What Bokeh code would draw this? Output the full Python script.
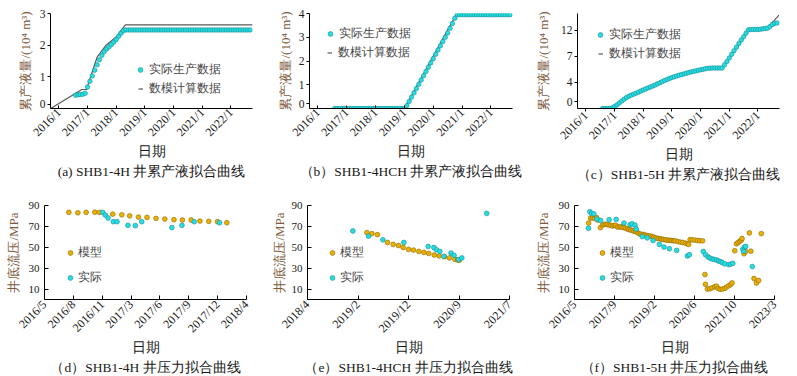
import math
import numpy as np
from bokeh.plotting import figure
from bokeh.models import FixedTicker, Legend, LegendItem, Title
from bokeh.layouts import column, row
from bokeh.embed import file_html
from bokeh.resources import INLINE

FONT = "Liberation Serif"
CYAN = "#26DDE0"
CYAN_EDGE = "#168F99"
GOLD = "#EDB000"
GOLD_EDGE = "#8C6A00"
BROWN = "#7D5A3C"
TXT = "#1A1A1A"
LEG_TXT = "#474747"

# ---------------- data (x = month index, 0 = 2016/1) ----------------
top_ticks = [0, 12, 24, 36, 48, 60, 72]
top_tick_labels = ["2016/1", "2017/1", "2018/1", "2019/1", "2020/1", "2021/1", "2022/1"]

# (a) SHB1-4H cumulative liquid, 10^4 m3 (actual = monthly from 2016/8)
a_act_start = 7
a_act = [0.42, 0.43, 0.44, 0.45, 0.48,
         0.68, 0.86, 1.03, 1.21, 1.38, 1.54, 1.68, 1.80, 1.88, 1.95, 2.02, 2.10, 2.18, 2.28, 2.38, 2.46,
         2.48, 2.48, 2.48, 2.48, 2.48, 2.48, 2.48, 2.48, 2.48, 2.48, 2.48, 2.48, 2.48, 2.48, 2.48, 2.48,
         2.48, 2.48, 2.48, 2.48, 2.48, 2.48, 2.48, 2.48, 2.48, 2.48, 2.48, 2.48, 2.48, 2.48, 2.48, 2.48,
         2.48, 2.48, 2.48, 2.48, 2.48, 2.48, 2.48, 2.48, 2.48, 2.48, 2.48, 2.48, 2.48, 2.48, 2.48, 2.48,
         2.48, 2.48, 2.48, 2.48, 2.48]
a_mod_m = [-3.4, 9.6, 11.6, 12.3, 16.0, 19.6, 24.1, 27.8, 81.0]
a_mod_v = [0.0, 0.60, 0.60, 0.78, 1.62, 1.99, 2.27, 2.64, 2.64]
a_yticks = [0.13, 1, 2, 3]
a_ylabels = ["0", "1", "2", "3"]

# (b) SHB1-4HCH
b_act_start = 7
b_act = [0.0, 0.0, 0.0, 0.0, 0.0, 0.0, 0.0, 0.0, 0.0, 0.0, 0.0, 0.0, 0.0, 0.0, 0.0,
         0.0, 0.0, 0.0, 0.0, 0.0, 0.0, 0.0, 0.0, 0.0, 0.0, 0.0, 0.0, 0.0, 0.0, 0.0,
         0.12, 0.30, 0.48, 0.66, 0.84, 1.02, 1.20, 1.38, 1.56, 1.74, 1.92, 2.10, 2.28, 2.46,
         2.64, 2.82, 3.00, 3.18, 3.38, 3.58, 3.80,
         3.95, 3.95, 3.95, 3.95, 3.95, 3.95, 3.95, 3.95, 3.95, 3.95, 3.95, 3.95, 3.95, 3.95,
         3.95, 3.95, 3.95, 3.95, 3.95, 3.95, 3.95, 3.95, 3.95]
b_mod_m = [7, 36, 57.5, 80.5]
b_mod_v = [0.0, 0.0, 3.95, 3.95]
b_yticks = [0.2, 1, 2, 3, 4]
b_ylabels = ["0", "1", "2", "3", "4"]

# (c) SHB1-5H
c_act_start = 7
c_act = [0.0, 0.0, 0.0, 0.0, 0.1, 0.3, 0.55, 0.85, 1.15, 1.42, 1.68, 1.88, 2.05, 2.2, 2.35,
         2.5, 2.68, 2.85, 3.0, 3.15, 3.3, 3.45, 3.6, 3.78, 3.95, 4.12, 4.3, 4.45, 4.6, 4.75,
         4.87, 4.98, 5.1, 5.2, 5.3, 5.4, 5.5, 5.6, 5.68, 5.76, 5.85, 5.92, 6.0, 6.08, 6.15,
         6.18, 6.2, 6.2, 6.2, 6.2, 6.2, 6.7, 7.2, 7.75, 8.3, 8.85, 9.4, 9.95, 10.5, 11.0,
         11.55, 12.05, 12.1, 12.1, 12.1, 12.1, 12.15, 12.2, 12.25, 12.3, 12.55, 12.85, 13.05, 13.1]
c_mod_m = [-3.6, 10.5, 12, 14, 18, 24, 36, 48, 52, 57.2, 68.5, 72, 76, 80.8]
c_mod_v = [0.0, 0.0, 0.3, 0.85, 1.88, 2.85, 4.75, 5.92, 6.18, 6.2, 12.1, 12.1, 12.35, 14.3]
c_yticks = [1.0, 4, 8, 12]
c_ylabels = ["0", "4", "7", "12"]

# (d) SHB1-4H bottom-hole flowing pressure, MPa
d_tick_labels = ["2016/5", "2016/8", "2016/11", "2017/3", "2017/6", "2017/9", "2017/12", "2018/4"]
d_span = (4, 27)
d_mod_m = [6.77, 7.8, 8.74, 9.73, 10.25, 11.77, 12.8, 13.7, 14.7, 15.67, 16.7, 17.7, 18.74,
           19.7, 20.7, 21.7, 22.7, 23.7, 24.76]
d_mod_v = [83.4, 83.0, 83.4, 83.6, 83.4, 81.7, 81.1, 80.1, 78.9, 78.6, 77.6, 77.0, 76.4,
           76.1, 76.1, 75.1, 74.8, 74.5, 73.5]
d_act_m = [10.63, 10.93, 11.24, 11.84, 12.26, 13.5, 14.34, 15.07, 18.5, 19.65, 21.05, 23.93]
d_act_v = [83.4, 80.8, 78.0, 74.5, 74.5, 71.0, 70.7, 74.5, 68.8, 71.0, 74.5, 73.5]

# (e) SHB1-4HCH
e_tick_labels = ["2018/4", "2019/2", "2019/12", "2020/9", "2021/7"]
e_span = (27, 66)
e_mod_m = [38.47, 39.43, 40.5, 42.44, 43.54, 44.57, 45.48, 46.5, 47.46, 48.5, 49.47, 50.4,
           51.46, 52.42, 53.45, 54.4, 55.45, 56.0, 56.3]
e_mod_v = [64.0, 63.1, 62.1, 54.6, 52.7, 51.7, 49.8, 47.9, 47.3, 46.0, 45.1, 44.1,
           42.6, 41.7, 41.0, 39.8, 38.4, 37.9, 37.5]
e_act_m = [35.76, 38.78, 41.55, 45.6, 50.3, 51.4, 51.9, 52.55, 53.33, 54.7, 55.3, 56.15, 56.8, 61.6]
e_act_v = [65.6, 60.6, 57.1, 54.6, 50.8, 49.8, 47.6, 46.0, 41.3, 44.5, 42.3, 38.2, 39.8, 82.4]

# (f) SHB1-5H
f_tick_labels = ["2016/5", "2017/9", "2019/2", "2020/6", "2021/10", "2023/3"]
f_span = (4, 86)
f_mod_m = [9.8, 10.6, 11.4, 12.2, 13.0, 13.5, 14.6, 15.5, 16.2, 16.9, 17.5, 18.2, 18.9, 19.6,
           20.3, 20.9, 21.6, 22.3, 23.0, 23.6, 24.3, 25.0, 25.7, 26.3, 27.0, 27.7, 28.4, 29.0,
           29.7, 30.4, 31.1, 31.8, 32.4, 33.1, 33.8, 34.5, 35.2, 35.9, 36.5, 37.2, 37.9, 38.6,
           39.3, 39.9, 40.6, 41.3, 42.0, 42.7, 43.4, 44.0, 44.7, 45.3, 46.4, 47.4, 48.3, 49.4,
           50.3, 50.8, 51.4, 52.3, 53.4, 54.5, 55.4, 56.5, 57.5, 57.7, 58.5, 59.5, 60.4, 61.5,
           62.2, 62.9, 63.7, 64.6, 65.6, 66.3, 67.2, 68.0, 68.6, 69.7, 70.4, 71.1, 71.8, 72.4,
           72.7, 73.5, 74.1, 75.7, 76.3, 77.6, 78.6, 79.5, 80.6]
f_mod_v = [73.2, 77.9, 78.2, 77.7, 78.5, 76.1, 68.8, 71.3, 72.0, 72.0, 71.7, 71.3, 71.0, 70.3,
           71.0, 71.0, 69.4, 69.4, 69.7, 69.1, 68.8, 68.2, 67.5, 66.9, 66.6, 66.0, 65.6, 65.0,
           64.4, 63.1, 62.5, 62.2, 62.2, 61.5, 61.2, 60.9, 60.6, 60.2, 59.6, 59.0, 58.6, 58.3,
           58.0, 57.7, 57.4, 57.1, 56.8, 56.8, 56.5, 56.5, 56.2, 56.2, 55.5, 54.9, 54.6, 54.0,
           53.3, 52.7, 57.4, 57.1, 56.8, 56.5, 56.2, 56.2, 23.9, 14.5, 10.0, 10.3, 11.2, 12.2,
           12.8, 10.6, 9.7, 10.0, 10.6, 11.9, 13.1, 14.3, 15.9, 46.7, 53.3, 54.6, 55.8, 56.8,
           58.4, 43.8, 46.0, 63.7, 46.3, 20.1, 15.7, 18.2, 63.1]
f_act_m = [9.7, 10.3, 11.0, 11.9, 13.2, 14.7, 18.2, 21.1, 24.3, 26.8, 27.6, 28.8, 29.3, 31.8,
           33.8, 36.2, 38.8, 40.7, 42.9, 45.9, 50.3, 51.1, 56.8, 57.7, 58.8, 59.5, 60.4, 61.2,
           62.2, 63.0, 63.8, 64.6, 65.6, 67.2, 68.0, 68.9, 73.0, 73.4, 73.7, 74.2, 76.9]
f_act_v = [68.2, 84.0, 82.4, 82.0, 77.0, 75.7, 76.4, 76.7, 73.2, 71.6, 72.5, 71.2, 67.5, 60.2,
           59.0, 56.5, 52.7, 50.2, 48.6, 47.0, 41.7, 42.9, 46.0, 42.9, 40.7, 39.7, 38.8, 38.4,
           37.9, 36.9, 36.3, 35.3, 34.1, 33.4, 33.8, 34.6, 48.0, 46.3, 50.2, 50.8, 31.5]
p_yticks = [10, 30, 50, 70, 90]


def base_fig(width, height, bl, br, bt, bb, xr, yr):
    p = figure(width=width, height=height, x_range=xr, y_range=yr, title=None,
               output_backend="svg", toolbar_location=None,
               min_border_left=bl, min_border_right=br, min_border_top=bt, min_border_bottom=bb)
    p.outline_line_color = None
    p.xgrid.visible = False
    p.ygrid.visible = False
    p.background_fill_color = "white"
    p.border_fill_color = "white"
    return p


def style_axis(ax, ticks, labels, tick_in, tick_out, size, standoff):
    ticks = [float(t) for t in ticks]
    ax.ticker = FixedTicker(ticks=ticks)
    ax.major_label_overrides = {t: s for t, s in zip(ticks, labels)}
    ax.minor_tick_line_color = None
    ax.major_tick_in = tick_in
    ax.major_tick_out = tick_out
    ax.axis_line_color = "black"
    ax.axis_line_width = 1
    ax.major_tick_line_color = "black"
    ax.major_label_text_font = FONT
    ax.major_label_text_font_size = size
    ax.major_label_text_color = TXT
    ax.major_label_standoff = standoff
    ax.axis_label_text_font = FONT
    ax.axis_label_text_font_style = "normal"


def texts(p, ylab, ylab_standoff, xlab_standoff, title, title_standoff):
    xa, ya = p.xaxis[0], p.yaxis[0]
    ya.axis_label = ylab
    ya.axis_label_text_font_size = "13px"
    ya.axis_label_text_color = BROWN
    ya.axis_label_standoff = ylab_standoff
    xa.axis_label = "日期"
    xa.axis_label_text_font_size = "13.5px"
    xa.axis_label_text_color = TXT
    xa.axis_label_standoff = xlab_standoff
    xa.major_label_orientation = math.pi / 4
    p.add_layout(Title(text=title, align="center", text_font=FONT, text_font_size="13.5px",
                       text_font_style="normal", text_color=TXT, standoff=title_standoff), "below")


def legend(p, items, vx, vy, gw, standoff, spacing):
    leg = Legend(items=items, location=(vx, vy), orientation="vertical", padding=0, margin=0,
                 spacing=spacing, glyph_width=gw, glyph_height=17, label_height=17,
                 label_standoff=standoff, label_text_font=FONT, label_text_font_size="12px",
                 label_text_color=LEG_TXT, border_line_color=None, background_fill_alpha=0)
    p.add_layout(leg)


def top_panel(width, bl, br, yr, yticks, ylabels, x_in, x_out, act_start, act_vals, mod_m, mod_v,
              leg_x, leg_y, ylab_standoff, title):
    p = base_fig(width, 190, bl, br, 13, 82, (-3.5, 81.0), yr)
    style_axis(p.xaxis[0], top_ticks, top_tick_labels, x_in, x_out, "12px", 2)
    style_axis(p.yaxis[0], yticks, ylabels, 0, 3, "11.5px", 2)
    texts(p, "累产液量/(10⁴ m³)", ylab_standoff, -3, title, 0)
    act_m = list(range(act_start, act_start + len(act_vals)))
    r_mod = p.line(mod_m, mod_v, line_color="#5A5A5A", line_width=1.2)
    r_act = p.scatter(act_m, act_vals, size=4.5, fill_color=CYAN, line_color=CYAN_EDGE, line_width=0.6)
    legend(p, [LegendItem(label="实际生产数据", renderers=[r_act])], leg_x - 6, leg_y + 19 - 8.5, 12, 3, 0)
    legend(p, [LegendItem(label="数模计算数据", renderers=[r_mod])], leg_x - 2.5, leg_y - 8.5, 5, 6, 0)
    return p


def bottom_panel(width, bl, br, span, tick_labels, mod_m, mod_v, act_m, act_v, leg_x, ylab_standoff, title):
    p = base_fig(width, 186, bl, br, 15, 77, span, (0, 90))
    xt = np.linspace(span[0], span[1], len(tick_labels))
    style_axis(p.xaxis[0], [round(float(t), 4) for t in xt], tick_labels, 4, 0, "12px", 3)
    style_axis(p.yaxis[0], p_yticks, [str(t) for t in p_yticks], 4, 0, "11px", 5)
    texts(p, "井底流压/MPa", ylab_standoff, -3, title, -2)
    r_mod = p.scatter(mod_m, mod_v, size=4.8, fill_color=GOLD, line_color=GOLD_EDGE, line_width=0.6)
    r_act = p.scatter(act_m, act_v, size=4.8, fill_color=CYAN, line_color=CYAN_EDGE, line_width=0.6)
    legend(p, [LegendItem(label="模型", renderers=[r_mod]), LegendItem(label="实际", renderers=[r_act])],
           leg_x - 6, 21.7 - 8.5, 12, 2, 8)
    return p


pa = top_panel(265, 50, 13, (0, 3), a_yticks, a_ylabels, 3, 0, a_act_start, a_act, a_mod_m, a_mod_v,
               90, 20, 4, "(a) SHB1-4H 井累产液拟合曲线")
pb = top_panel(267, 44, 20, (0, 4), b_yticks, b_ylabels, 3, 0, b_act_start, b_act, b_mod_m, b_mod_v,
               20.7, 55.7, 3, "（b）SHB1-4HCH 井累产液拟合曲线")
pc = top_panel(265, 45, 18, (0, 14.55), c_yticks, c_ylabels, 0, 3, c_act_start, c_act, c_mod_m, c_mod_v,
               23.3, 55, 7, "（c）SHB1-5H 井累产液拟合曲线")
pd = bottom_panel(265, 44, 19, d_span, d_tick_labels, d_mod_m, d_mod_v, d_act_m, d_act_v, 26.4, 5,
                  "（d）SHB1-4H 井压力拟合曲线")
pe = bottom_panel(267, 42, 23, e_span, e_tick_labels, e_mod_m, e_mod_v, e_act_m, e_act_v, 25.4, 2,
                  "（e）SHB1-4HCH 井压力拟合曲线")
pf = bottom_panel(265, 40, 23, f_span, f_tick_labels, f_mod_m, f_mod_v, f_act_m, f_act_v, 27.6, 5,
                  "（f）SHB1-5H 井压力拟合曲线")

layout = column(row(pa, pb, pc), row(pd, pe, pf))
open("out.html", "w").write(file_html(layout, INLINE))
